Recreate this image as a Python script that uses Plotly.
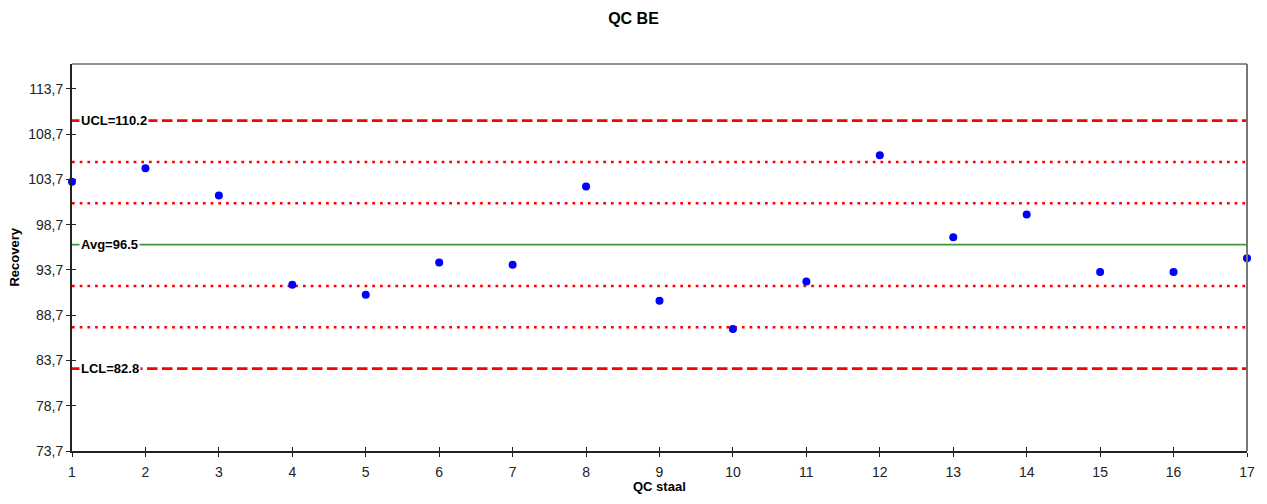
import plotly.graph_objects as go

# ---- data ----
samples = list(range(1, 18))
recovery = [103.44, 104.94, 101.93, 92.07, 90.96, 94.53, 94.27, 102.92, 90.30,
            87.17, 92.43, 106.38, 97.33, 99.83, 93.47, 93.47, 95.01]
ucl = 110.2
avg = 96.5
lcl = 82.8
sigma = (ucl - avg) / 3.0
y_tickvals = [73.7, 78.7, 83.7, 88.7, 93.7, 98.7, 103.7, 108.7, 113.7]
y_ticktext = [f"{v:.1f}".replace(".", ",") for v in y_tickvals]
y_range = [73.7, 116.46]
x_range = [1, 17]

FONT = "Liberation Sans, Arial, sans-serif"
RED = "#FF0000"
GREEN = "#3C9A3C"

W, H = 1267, 504
ML, MR, MT, MB = 72, 19.5, 64, 52.5
PW, PH = W - ML - MR, H - MT - MB

fig = go.Figure()

xl = [samples[0], samples[-1]]
# sigma zone lines (dotted)
for k in (2, 1, -1, -2):
    fig.add_trace(go.Scatter(x=xl, y=[avg + k * sigma] * 2, mode="lines",
                             line=dict(color=RED, width=2.6, dash="2.7px,5px"),
                             hoverinfo="skip", showlegend=False))
# control limits (dashed)
for v in (ucl, lcl):
    fig.add_trace(go.Scatter(x=xl, y=[v, v], mode="lines",
                             line=dict(color=RED, width=2.6, dash="10.5px,4.5px"),
                             hoverinfo="skip", showlegend=False))
# average
fig.add_trace(go.Scatter(x=xl, y=[avg, avg], mode="lines",
                         line=dict(color=GREEN, width=1.6),
                         hoverinfo="skip", showlegend=False))
# data points
fig.add_trace(go.Scatter(x=samples, y=recovery, mode="markers",
                         marker=dict(color="#0000FF", size=8),
                         cliponaxis=False, showlegend=False))

# labels for lines
for txt, v in ((f"UCL={ucl}", ucl), (f"Avg={avg}", avg), (f"LCL={lcl}", lcl)):
    fig.add_annotation(x=1.09, y=v, xref="x", yref="y", text=f"<b>{txt}</b>",
                       showarrow=False, xanchor="left", yanchor="middle",
                       bgcolor="white", borderpad=1,
                       font=dict(family=FONT, size=13, color="black"))

# axis titles
fig.add_annotation(x=(14 - ML) / PW, y=0.5, xref="paper", yref="paper",
                   text="<b>Recovery</b>", textangle=-90, showarrow=False,
                   xanchor="center", yanchor="middle",
                   font=dict(family=FONT, size=13, color="black"))
fig.add_annotation(x=0.5, y=-(487 - (H - MB)) / PH, xref="paper", yref="paper",
                   text="<b>QC staal</b>", showarrow=False,
                   xanchor="center", yanchor="middle",
                   font=dict(family=FONT, size=13, color="black"))

# frame top/right thin lines
fig.add_shape(type="line", xref="paper", yref="paper", x0=0, x1=1, y0=1, y1=1,
              line=dict(color="#222222", width=1))
fig.add_shape(type="line", xref="paper", yref="paper", x0=1, x1=1, y0=0, y1=1,
              line=dict(color="#777777", width=2))

fig.update_layout(
    width=W, height=H,
    margin=dict(l=ML, r=MR, t=MT, b=MB, pad=0),
    paper_bgcolor="white", plot_bgcolor="white",
    font=dict(family=FONT, size=14, color="#222222"),
    title=dict(text="<b>QC BE</b>", x=0.5, xanchor="center",
               y=1 - 18.5 / H, yanchor="middle", yref="container",
               font=dict(family=FONT, size=16, color="black")),
    xaxis=dict(range=x_range, tickvals=samples, ticks="outside", ticklen=4,
               tickcolor="#222222", tickwidth=1.2, automargin=False,
               ticklabelstandoff=3,
               showline=True, linecolor="#222222", linewidth=2,
               showgrid=False, zeroline=False),
    yaxis=dict(range=y_range, tickvals=y_tickvals, ticktext=y_ticktext,
               ticks="outside", ticklen=4, tickcolor="#222222", tickwidth=1.2,
               automargin=False,
               showline=True, linecolor="#222222", linewidth=2,
               showgrid=False, zeroline=False),
    xaxis2=dict(range=x_range, tickvals=samples, ticks="inside", ticklen=4,
                tickcolor="#222222", tickwidth=1.2, showticklabels=False,
                overlaying="x", side="bottom", showgrid=False, zeroline=False,
                automargin=False, matches="x"),
    yaxis2=dict(range=y_range, tickvals=y_tickvals, ticks="inside", ticklen=4,
                tickcolor="#222222", tickwidth=1.2, showticklabels=False,
                overlaying="y", side="left", showgrid=False, zeroline=False,
                automargin=False, matches="y"),
)
# invisible trace to activate the overlay axes
fig.add_trace(go.Scatter(x=[samples[0]], y=[recovery[0]], xaxis="x2", yaxis="y2",
                         mode="markers", marker=dict(opacity=0), hoverinfo="skip",
                         showlegend=False))

fig.write_html("out.html", config={"displayModeBar": False},
               post_script="document.body.style.margin='0';document.body.style.padding='0';")
